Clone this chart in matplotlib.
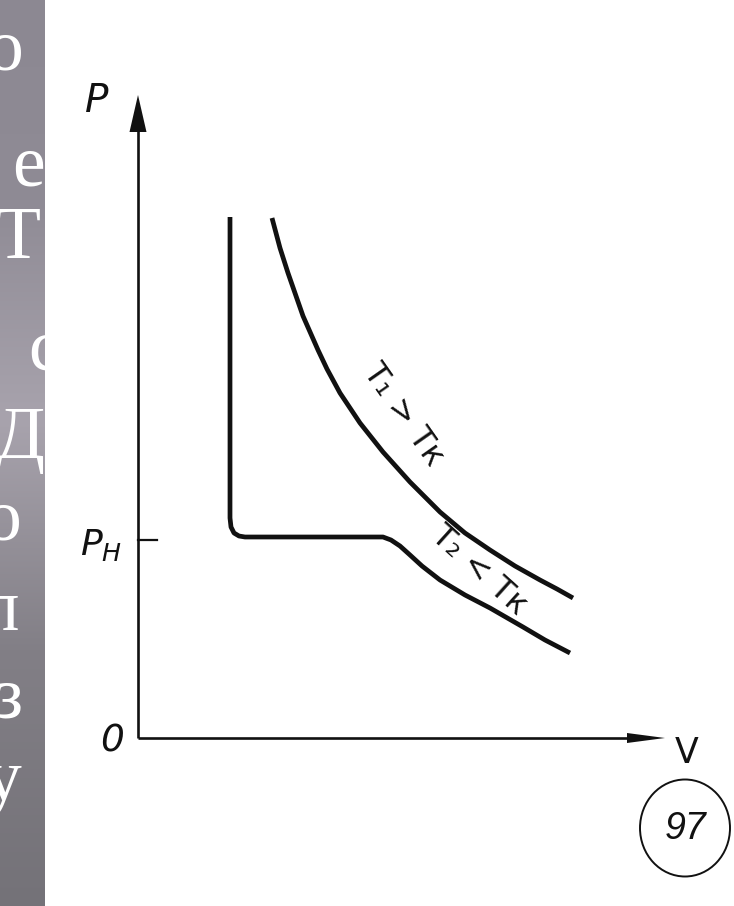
import numpy as np
import matplotlib
matplotlib.use("Agg")
import matplotlib.pyplot as plt
from matplotlib.patches import Ellipse, Polygon

# ---------------- data (arbitrary V / P units) ----------------
t1_v = [2.68, 2.84, 3.00, 3.30, 3.60, 3.78, 4.04, 4.44, 4.90, 5.44,
        6.04, 6.54, 7.04, 7.54, 8.04, 8.38, 8.70]
t1_p = [10.40, 9.80, 9.30, 8.44, 7.76, 7.38, 6.90, 6.30, 5.72, 5.12,
        4.52, 4.10, 3.76, 3.44, 3.16, 2.98, 2.80]

t2_v = [1.84, 1.84, 1.86, 1.92, 2.02, 2.14, 3.00, 4.00, 4.90, 5.06, 5.24,
        5.44, 5.68, 6.04, 6.54, 7.04, 7.70, 8.14, 8.64]
t2_p = [10.42, 4.40, 4.22, 4.10, 4.04, 4.02, 4.02, 4.02, 4.02, 3.96, 3.84,
        3.66, 3.44, 3.16, 2.86, 2.60, 2.22, 1.96, 1.70]

p_sat = 3.96          # P_H level (tick on the P axis)
v_axis_end = 10.54    # tip of V arrow
p_axis_end = 12.86    # tip of P arrow

label_t1 = "T₁ > Tк"
label_t2 = "T₂ < Tк"
label_p = "P"
label_ph = r"$P_H$"
label_o = "0"
label_v = "V"
fig_number = "97"

strip_letters = ["о", "е", "Т", "с", "Д", "о", "п", "з", "у"]
strip_letter_y = [52, 168, 240, 352, 440, 522, 612, 700, 782]   # px from top
strip_letter_x = [-14, 12, -4, 28, -6, -16, -20, -6, -16]        # px left edge

# ---------------- figure ----------------
W, H, DPI = 734, 906, 100
fig = plt.figure(figsize=(W / DPI, H / DPI), dpi=DPI)
fig.patch.set_facecolor("white")

ox, oy, unit = 138, 738, 50.0   # origin in pixels, px per unit
ax = fig.add_axes([0, 0, 1, 1])
ax.set_xlim(-ox / unit, (W - ox) / unit)
ax.set_ylim((oy - H) / unit, oy / unit)
ax.axis("off")

ink = "#111111"
# axes with arrows
ax.plot([0, 0], [0, p_axis_end - 0.7], color=ink, lw=1.9, solid_capstyle="butt")
ax.add_patch(Polygon([[0, p_axis_end], [-0.17, p_axis_end - 0.74],
                      [0.17, p_axis_end - 0.74]], closed=True,
                     color=ink, lw=0))
ax.plot([0, v_axis_end - 0.7], [0, 0], color=ink, lw=1.9, solid_capstyle="butt")
ax.add_patch(Polygon([[v_axis_end, 0], [v_axis_end - 0.76, 0.10],
                      [v_axis_end - 0.76, -0.10]], closed=True,
                     color=ink, lw=0))
# P_H tick
ax.plot([0, 0.38], [p_sat, p_sat], color=ink, lw=1.6)

# isotherms
ax.plot(t1_v, t1_p, color=ink, lw=3.4, solid_joinstyle="round",
        solid_capstyle="butt")
ax.plot(t2_v, t2_p, color=ink, lw=3.4, solid_joinstyle="round",
        solid_capstyle="butt")

# labels
txt = dict(color=ink, family="DejaVu Sans")
ax.text(-0.82, 12.74, label_p, fontsize=28, style="italic", ha="center",
        va="center", **txt)
ax.text(-0.74, 3.86, label_ph, fontsize=26, ha="center", va="center", **txt)
ax.text(-0.52, -0.06, label_o, fontsize=27, style="italic", ha="center",
        va="center", **txt)
ax.text(10.98, -0.30, label_v, fontsize=25, ha="center", va="center", **txt)
ax.text(5.30, 6.46, label_t1, fontsize=23, rotation=-55, ha="center",
        va="center", rotation_mode="anchor", **txt)
ax.text(6.82, 3.36, label_t2, fontsize=23, rotation=-42, ha="center",
        va="center", rotation_mode="anchor", **txt)

# circled figure number
ax.add_patch(Ellipse((10.94, -1.80), 1.80, 1.94, fill=False, ec=ink, lw=1.4))
ax.text(10.96, -1.82, fig_number, fontsize=27, style="italic",
        family="Liberation Sans", color=ink, ha="center", va="center")

# ---------------- gray strip on the left ----------------
strip_w = 45
sax = fig.add_axes([0, 0, strip_w / W, 1])
sax.set_xlim(0, strip_w)
sax.set_ylim(H, 0)
sax.axis("off")
stops_y = np.array([0, 200, 420, 650, 906])
stops_c = np.array([[140, 136, 146], [143, 139, 149], [168, 163, 173],
                    [130, 127, 134], [116, 114, 120]]) / 255.0
yy = np.arange(H)
grad = np.stack([np.interp(yy, stops_y, stops_c[:, k]) for k in range(3)], axis=1)
sax.imshow(grad[:, None, :], extent=[0, strip_w, H, 0], aspect="auto",
           interpolation="bilinear")
for ch, y, x in zip(strip_letters, strip_letter_y, strip_letter_x):
    sax.text(x, y, ch, fontsize=53, family="Liberation Serif", color="white",
             ha="left", va="center", clip_on=True)
sax.set_xlim(0, strip_w)
sax.set_ylim(H, 0)

fig.savefig("out.png", dpi=DPI, facecolor="white")
